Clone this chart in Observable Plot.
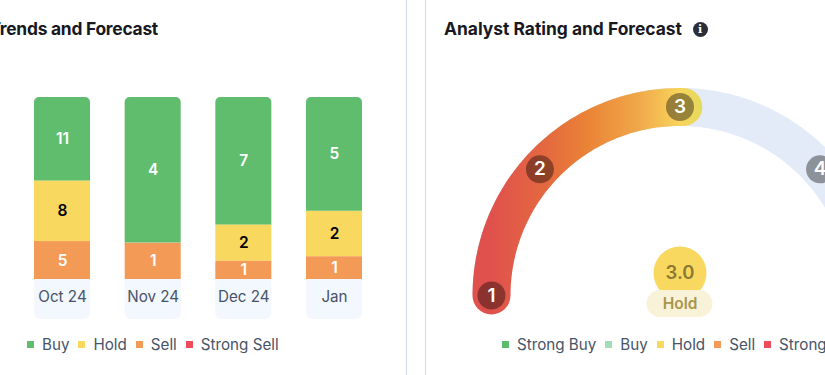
<!DOCTYPE html>
<html>
<head>
<meta charset="utf-8">
<script src="https://cdn.jsdelivr.net/npm/d3@7"></script>
<script src="https://cdn.jsdelivr.net/npm/@observablehq/plot@0.6"></script>
<style>
html,body{margin:0;padding:0;width:825px;height:375px;overflow:hidden;background:#fff;font-family:Inter,"Noto Sans",sans-serif;}
#stage{position:relative;width:825px;height:375px;overflow:hidden;}
.abs{position:absolute;}
.divider{position:absolute;top:0;bottom:0;width:1px;background:#cfdcf3;}
.title{position:absolute;top:18px;font-size:17.4px;font-weight:700;color:#17191f;line-height:22px;white-space:nowrap;}
.legend{position:absolute;top:333px;display:flex;align-items:center;height:22px;font-size:15.2px;color:#475467;white-space:nowrap;}
.legend .sw{width:7px;height:7px;margin-right:8px;display:inline-block;}
.legend .it{display:flex;align-items:center;margin-right:9px;}
.info{position:absolute;left:692.5px;top:21.5px;width:15px;height:15px;border-radius:50%;background:#2b2e36;color:#fff;font:700 11px/15px "DejaVu Serif",serif;text-align:center;}
svg{position:absolute;left:0;top:0;overflow:visible;}
</style>
</head>
<body>
<div id="stage">
  <div class="divider" style="left:406px"></div>
  <div class="divider" style="left:425px"></div>
  <div class="title" style="right:667px;letter-spacing:-.25px">Trends and Forecast</div>
  <div class="title" style="left:444px">Analyst Rating and Forecast</div>
  <div class="info">i</div>
  <div id="left" class="abs" style="left:0;top:0;width:406px;height:375px"></div>
  <div id="right" class="abs" style="left:426px;top:0;width:399px;height:375px"></div>
  <div id="legendL" class="legend" style="left:27px"></div>
  <div id="legendR" class="legend" style="left:502px"></div>
</div>
<script>
// ---- Trends data
const months = ["Oct 24", "Nov 24", "Dec 24", "Jan"];
const buy = [11, 4, 7, 5];
const hold = [8, 0, 2, 2];
const sell = [5, 1, 1, 1];
const strongSell = [0, 0, 0, 0];

// ---- Gauge data
const ratings = [1, 2, 3, 4, 5];
const ratingAngles = [180, 138, 90, 42, 0];
const score = 3.0;
const scoreLabel = "Hold";

// ---- Legends
const trendLegend = ["Buy", "Hold", "Sell", "Strong Sell"];
const gaugeLegend = ["Strong Buy", "Buy", "Hold", "Sell", "Strong Sell"];
const colors = {"Strong Buy": "#5dbb6c", "Buy": "#a3dcb8", "Hold": "#f9d85f", "Sell": "#f39a56", "Strong Sell": "#ee4c5c"};
const barColors = {"Buy": "#60bd6e", "Hold": "#f9d85f", "Sell": "#f39a56", "Strong Sell": "#ee4c5c"};
const plotStyle = {background: "transparent", overflow: "visible", fontFamily: "Inter, 'Noto Sans', sans-serif"};

// Normalised stack table
const rows = [];
months.forEach((m, i) => {
  const total = buy[i] + hold[i] + sell[i] + strongSell[i];
  let top = 1;
  [["Buy", buy[i]], ["Hold", hold[i]], ["Sell", sell[i]], ["Strong Sell", strongSell[i]]].forEach(([k, v]) => {
    if (!v) return;
    rows.push({month: m, key: k, value: v, y2: top, y1: top - v / total});
    top -= v / total;
  });
});

const trends = Plot.plot({
  width: 406, height: 375,
  marginTop: 97, marginBottom: 96, marginLeft: 0, marginRight: 0,
  style: plotStyle,
  x: {type: "band", domain: months, range: [34, 362], paddingInner: 0.382, paddingOuter: 0, round: false, axis: null},
  y: {domain: [0, 1], axis: null},
  marks: [
    Plot.barY(months, {x: d => d, y1: () => 0, y2: () => 0, insetBottom: -40, fill: "#f3f7fe", ry2: 6}),
    Plot.barY(rows.filter(d => d.key !== "Buy"), {x: "month", y1: "y1", y2: "y2", fill: d => barColors[d.key]}),
    Plot.barY(rows.filter(d => d.key === "Buy"), {x: "month", y1: "y1", y2: "y2", fill: d => barColors[d.key], ry1: 5}),
    Plot.text(rows, {x: "month", y: d => (d.y1 + d.y2) / 2, text: d => String(d.value), fill: d => d.key === "Hold" ? "#000" : "#fff", fontSize: 15.5, fontWeight: 600}),
    Plot.axisX({anchor: "bottom", tickSize: 0, tickPadding: 12, fontSize: 15.2, color: "#475467", label: null})
  ]
});
document.getElementById("left").append(trends);

// ---- Gauge
const cx = d => Math.cos(d * Math.PI / 180);
const sy = d => Math.sin(d * Math.PI / 180);
const trackAngles = d3.range(180, -1, -1);
const valueAngles = d3.range(180, 88, -1);
const ratingPoints = ratings.map((r, i) => ({r, a: ratingAngles[i], reached: r <= score}));

const gradientDefs = () => {
  const g = document.createElementNS("http://www.w3.org/2000/svg", "g");
  g.innerHTML = `<defs><linearGradient id="gaugeGrad" gradientUnits="userSpaceOnUse" x1="46" x2="276" y1="0" y2="0">
    <stop offset="0.08" stop-color="#e0514d"/>
    <stop offset="0.32" stop-color="#e4693f"/>
    <stop offset="0.50" stop-color="#ea8336"/>
    <stop offset="0.72" stop-color="#f0a84a"/>
    <stop offset="0.90" stop-color="#f7d45c"/>
    <stop offset="1" stop-color="#e4da5c"/>
  </linearGradient></defs>`;
  return g;
};

const gauge = Plot.plot({
  width: 399, height: 375,
  margin: 0,
  style: plotStyle,
  x: {domain: [-1, 1], range: [65, 442], axis: null},
  y: {domain: [0, 1], range: [295, 106.5], axis: null},
  marks: [
    gradientDefs,
    Plot.line(trackAngles, {x: cx, y: sy, stroke: "#e3eaf8", strokeWidth: 38, strokeLinecap: "butt"}),
    Plot.line(valueAngles, {x: cx, y: sy, stroke: "url(#gaugeGrad)", strokeWidth: 38, strokeLinecap: "round"}),
    Plot.dot(ratingPoints, {x: d => cx(d.a), y: d => sy(d.a), r: 14, fill: "#000", fillOpacity: 0.38, stroke: null}),
    Plot.text(ratingPoints, {x: d => cx(d.a), y: d => sy(d.a), text: d => String(d.r), fill: "#fff", fontSize: 19, fontWeight: 600}),
    Plot.dot([score], {x: () => 0, y: () => 0, dy: -22.5, r: 26.5, fill: "#f9d85f"}),
    Plot.rect([score], {x1: () => 0, x2: () => 0, y1: () => 0, y2: () => 0, dy: 8.5, insetLeft: -33, insetRight: -33, insetTop: -13.5, insetBottom: -13.5, r: 13.5, fill: "#f8f2d9"}),
    Plot.text([score], {x: () => 0, y: () => 0, dy: -22.5, text: d => d.toFixed(1), fill: "#8b7a33", fontSize: 18.5, fontWeight: 600}),
    Plot.text([scoreLabel], {x: () => 0, y: () => 0, dy: 9, text: d => d, fill: "#a9954c", fontSize: 15.5, fontWeight: 600})
  ]
});
document.getElementById("right").append(gauge);

// ---- Legends
function legend(id, items, palette) {
  const el = document.getElementById(id);
  items.forEach(name => {
    const it = document.createElement("span");
    it.className = "it";
    const sw = document.createElement("span");
    sw.className = "sw";
    sw.style.background = palette[name];
    it.append(sw, document.createTextNode(name));
    el.append(it);
  });
}
legend("legendL", trendLegend, barColors);
legend("legendR", gaugeLegend, colors);
</script>
</body>
</html>
